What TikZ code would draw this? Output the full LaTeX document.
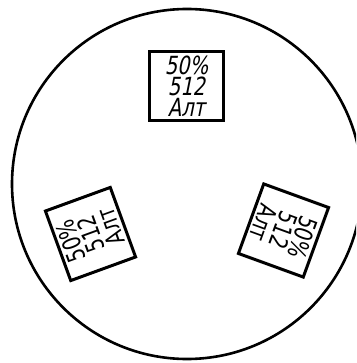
\documentclass[tikz,border=0pt]{standalone}
\usepackage{fontspec}
\newfontfamily\gostfont[FakeStretch=0.78]{DejaVu Sans}
\newfontfamily\gostslant[FakeStretch=0.78,FakeSlant=0.2]{DejaVu Sans}
\begin{document}
\begin{tikzpicture}[x=1pt,y=-1pt,
  label box/.style={draw,line width=3pt,minimum width=74pt,minimum height=69pt,
    inner sep=0pt,align=center,font=\gostfont\fontsize{25}{21}\selectfont},
  disk/.style={draw,line width=2.6pt}]
\useasboundingbox (0,0) rectangle (356,363);
\clip (0,0) rectangle (356,363);
\node[disk,circle,minimum size=350pt,inner sep=0pt] (disk) at (187,184) {};
\node[label box,font=\gostslant\fontsize{25}{21}\selectfont] (top) at (186.5,86) {50\%\\512\\Алт};
\node[label box,rotate=110] (left) at (90.5,234) {50\%\\512\\Алт};
\node[label box,rotate=-110] (right) at (283.5,230.5) {50\%\\512\\Алт};
\end{tikzpicture}
\end{document}
